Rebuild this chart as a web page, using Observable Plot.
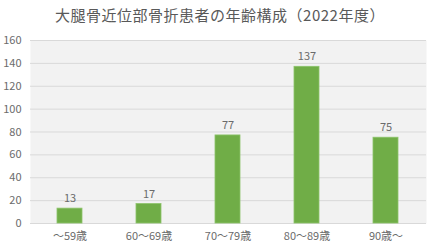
<!DOCTYPE html>
<html><head><meta charset="utf-8">
<script src="https://cdn.jsdelivr.net/npm/d3@7"></script>
<script src="https://cdn.jsdelivr.net/npm/@observablehq/plot@0.6"></script>
<style>
html,body{margin:0;padding:0;background:#fff;}
#title{height:30px;line-height:30px;text-align:center;font-family:"Noto Sans CJK JP",sans-serif;font-size:15px;color:#595959;padding-left:6px;letter-spacing:0.5px;}
</style>
</head><body>
<div id="title">大腿骨近位部骨折患者の年齢構成（2022年度）</div>
<div id="chart"></div>
<script>
const categories = ["～59歳", "60～69歳", "70～79歳", "80～89歳", "90歳～"];
const values = [13, 17, 77, 137, 75];
const yTicks = [0, 20, 40, 60, 80, 100, 120, 140, 160];

const data = categories.map((c, i) => ({category: c, value: values[i]}));
const font = "'Noto Sans CJK JP', sans-serif";

const chart = Plot.plot({
  width: 434,
  height: 216,
  marginTop: 10,
  marginBottom: 23,
  marginLeft: 30,
  marginRight: 8,
  style: {fontFamily: font, fontSize: "11px", color: "#6b6b6b", background: "#fff"},
  x: {domain: categories, paddingInner: 0.68, paddingOuter: 0.34, label: null, tickSize: 0, tickPadding: 9},
  y: {domain: [0, 160], ticks: yTicks, label: null, tickSize: 0, tickPadding: 9},
  marks: [
    Plot.frame({fill: "#f2f2f2", stroke: null}),
    Plot.gridY(yTicks, {stroke: "#d9d9d9", strokeOpacity: 1, strokeWidth: 1}),
    Plot.barY(data, {x: "category", y: "value", fill: "#70ad47", stroke: "#8cc46a", strokeWidth: 0.8}),
    Plot.text(data, {x: "category", y: "value", text: d => String(d.value), dy: -10, fill: "#6b6b6b", fontSize: 11})
  ]
});
document.getElementById("chart").appendChild(chart);
</script>
</body></html>
